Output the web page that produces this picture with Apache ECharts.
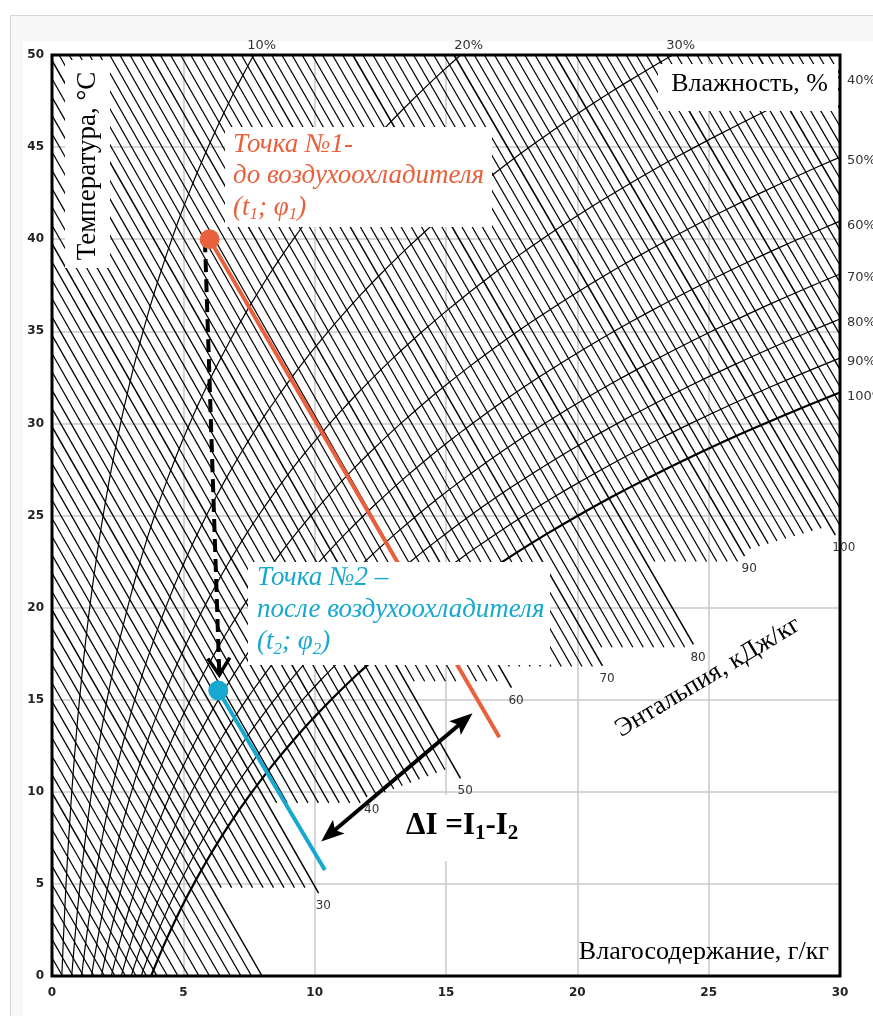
<!DOCTYPE html>
<html lang="ru">
<head>
<meta charset="utf-8">
<title>I-d диаграмма влажного воздуха</title>
<script src="https://cdn.jsdelivr.net/npm/echarts@6.0.0/dist/echarts.min.js"></script>
<style>
  html, body { margin: 0; padding: 0; background: #fff; overflow: hidden; }
  #card  { position: absolute; left: 10px; top: 15px; width: 880px; height: 1020px; box-sizing: border-box;
           border: 1px solid #d6d6d6; background: #f7f7f7; }
  #paper { position: absolute; left: 23px; top: 42px; width: 860px; height: 990px; background: #fff; }
  #chart { position: absolute; left: 0; top: 0; width: 873px; height: 1016px; }
</style>
</head>
<body>
<div id="card"></div>
<div id="paper"></div>
<div id="chart"></div>
<script>
// ---------- axes ----------
const xTicks = [0, 5, 10, 15, 20, 25, 30];                       // d, г/кг
const tTicks = [0, 5, 10, 15, 20, 25, 30, 35, 40, 45, 50];       // t, °C

// ---------- relative humidity isolines, % ----------
const rhLevels = [10, 20, 30, 40, 50, 60, 70, 80, 90, 100];

// ---------- enthalpy isolines, кДж/кг ----------
const enthalpyStep = 1;
const enthalpyMax = 128;
const enthalpyLabelled = [30, 40, 50, 60, 70, 80, 90, 100];
// lower end (t, °C) of the heavy isolines I = 10, 20 ... 100
const majorEndT = [0, 0, 4.5, 9.73, 10.73, 15.65, 16.83, 18.0, 22.8, 23.94];
// lower end (t, °C) of the thin isolines in each decade: [first, last]
const bandEndT = [[0, 0], [0, 0], [4.8, 4.8], [9.4, 9.4], [9.8, 11.2], [16.0, 16.0],
                  [16.8, 16.8], [17.85, 17.85], [22.5, 22.5], [23.2, 24.3]];

// ---------- cooling process, [d г/кг, t °C] ----------
const point1 = [6.0, 40.0];
const point2 = [6.33, 15.5];
const isenthalp1End = [17.03, 12.96];
const isenthalp2End = [10.39, 5.75];
const coolingPath = [[5.82, 40.0], [6.37, 16.34]];
const deltaIArrow = [[10.25, 7.3], [16.01, 14.26]];

const X_MIN = xTicks[0], X_MAX = xTicks[xTicks.length - 1];
const T_MIN = tTicks[0], T_MAX = tTicks[tTicks.length - 1];

// ---------- psychrometric relations, P = 101.325 кПа ----------
const P_ATM = 101.325;
const pSat = t => 0.61094 * Math.exp(17.625 * t / (t + 243.04));
const tFromPSat = p => { const l = Math.log(p / 0.61094); return 243.04 * l / (17.625 - l); };
const dAt = (phi, t) => { const pv = phi * pSat(t); return 622 * pv / (P_ATM - pv); };
const dOnH = (h, t) => (h - 1.006 * t) / (2.501 + 0.00186 * t);
const tOnH = (h, d) => (h - 2.501 * d) / (1.006 + 0.00186 * d);

// φ = const curves, cut at the frame
const rhCurves = rhLevels.map(rh => {
  const phi = rh / 100;
  const dTop = dAt(phi, T_MAX);
  const end = dTop <= X_MAX
    ? [dTop, T_MAX]
    : [X_MAX, tFromPSat(X_MAX * P_ATM / (622 + X_MAX) / phi)];
  const pts = [];
  for (let t = T_MIN; t < end[1]; t += 0.5) pts.push([dAt(phi, t), t]);
  pts.push(end);
  return { rh, pts, end };
});

// I = const hatching
const hatchMinor = [], hatchMajor = [], majorEnds = {};
for (let h = enthalpyStep; h <= enthalpyMax; h += enthalpyStep) {
  const start = h <= 1.006 * T_MAX ? [X_MIN, h / 1.006] : [dOnH(h, T_MAX), T_MAX];
  if (start[0] > X_MAX) continue;
  const k = Math.floor(h / 10);
  const isMajor = h % 10 === 0;
  let tEnd;
  if (isMajor) tEnd = k <= majorEndT.length ? majorEndT[k - 1] : T_MIN;
  else if (k < bandEndT.length) {
    const f = (h - 10 * k - 1) / 8;
    tEnd = bandEndT[k][0] + f * (bandEndT[k][1] - bandEndT[k][0]);
  } else tEnd = T_MIN;
  let end = [dOnH(h, tEnd), tEnd];
  if (end[0] > X_MAX) end = [X_MAX, tOnH(h, X_MAX)];
  if (isMajor) { hatchMajor.push({ coords: [start, end] }); majorEnds[h] = end; }
  else hatchMinor.push({ coords: [start, end] });
}

const COLOR_1 = '#e8603c';
const COLOR_2 = '#17a8cf';
const SERIF = '"Liberation Serif", "DejaVu Serif", serif';
const SANS = '"DejaVu Sans", Verdana, sans-serif';

const unit = (a, b) => { const dx = b[0] - a[0], dy = b[1] - a[1], L = Math.hypot(dx, dy); return [dx / L, dy / L]; };

const chart = echarts.init(document.getElementById('chart'), null, { renderer: 'canvas' });

const axisCommon = {
  type: 'value',
  axisLine: { show: false },
  axisTick: { show: false },
  splitLine: { show: true, showMinLine: false, showMaxLine: false, lineStyle: { color: '#c8c8c8', width: 1.5 } }
};

const series = [
  { type: 'lines', coordinateSystem: 'cartesian2d', data: hatchMinor, silent: true, z: 2,
    lineStyle: { color: '#000', width: 1.25, opacity: 1 } },
  { type: 'lines', coordinateSystem: 'cartesian2d', data: hatchMajor, silent: true, z: 2,
    lineStyle: { color: '#000', width: 1.5, opacity: 1 } }
];
rhCurves.forEach(c => series.push({
  type: 'line', data: c.pts, showSymbol: false, silent: true, z: 3,
  lineStyle: { color: '#000', width: c.rh === 100 ? 2.2 : 1.2 }
}));
series.push(
  { type: 'line', data: [point1, isenthalp1End], showSymbol: false, silent: true, z: 5,
    lineStyle: { color: COLOR_1, width: 4 } },
  { type: 'line', data: [point2, isenthalp2End], showSymbol: false, silent: true, z: 5,
    lineStyle: { color: COLOR_2, width: 4 } },
  { type: 'custom', z: 6, silent: true, data: [coolingPath[0]],
    renderItem: (params, api) => {
      const a = api.coord(coolingPath[0]), b = api.coord(coolingPath[1]);
      const [ux, uy] = unit(a, b), nx = -uy, ny = ux;
      return { type: 'group', children: [
        { type: 'line', shape: { x1: a[0], y1: a[1], x2: b[0] - ux * 3, y2: b[1] - uy * 3 },
          style: { stroke: '#000', lineWidth: 4, lineDash: [13, 7] } },
        { type: 'polyline', shape: { points: [
            [b[0] - ux * 17 + nx * 11, b[1] - uy * 17 + ny * 11], [b[0], b[1]],
            [b[0] - ux * 17 - nx * 11, b[1] - uy * 17 - ny * 11]] },
          style: { stroke: '#000', lineWidth: 3.5, fill: 'none' } }
      ] };
    } },
  { type: 'custom', z: 6, silent: true, data: [deltaIArrow[0]],
    renderItem: (params, api) => {
      const p = api.coord(deltaIArrow[0]), q = api.coord(deltaIArrow[1]);
      const [ux, uy] = unit(p, q), nx = -uy, ny = ux;
      const L = 23, W = 9, N = 18;
      const head = (tip, s) => [
        [tip[0], tip[1]],
        [tip[0] - s * ux * L + nx * W, tip[1] - s * uy * L + ny * W],
        [tip[0] - s * ux * N, tip[1] - s * uy * N],
        [tip[0] - s * ux * L - nx * W, tip[1] - s * uy * L - ny * W]];
      return { type: 'group', children: [
        { type: 'line', shape: { x1: p[0] + ux * 16, y1: p[1] + uy * 16, x2: q[0] - ux * 16, y2: q[1] - uy * 16 },
          style: { stroke: '#000', lineWidth: 4 } },
        { type: 'polygon', shape: { points: head(q, 1) }, style: { fill: '#000' } },
        { type: 'polygon', shape: { points: head(p, -1) }, style: { fill: '#000' } }
      ] };
    } },
  { type: 'scatter', data: [point1], symbolSize: 20, silent: true, z: 7, itemStyle: { color: COLOR_1, opacity: 1 } },
  { type: 'scatter', data: [point2], symbolSize: 20, silent: true, z: 7, itemStyle: { color: COLOR_2, opacity: 1 } }
);

chart.setOption({
  animation: false,
  grid: { left: 52, top: 55, right: 33, bottom: 40, show: true, backgroundColor: '#fff', borderWidth: 0 },
  xAxis: Object.assign({}, axisCommon, {
    min: X_MIN, max: X_MAX, interval: xTicks[1] - xTicks[0],
    axisLabel: { color: '#222', fontSize: 12, fontWeight: 'bold', fontFamily: SANS, margin: 11 }
  }),
  yAxis: Object.assign({}, axisCommon, {
    min: T_MIN, max: T_MAX, interval: tTicks[1] - tTicks[0],
    axisLabel: { color: '#222', fontSize: 12, fontWeight: 'bold', fontFamily: SANS, margin: 8 }
  }),
  series
});

// ---------- frame, isoline labels and captions ----------
const px = v => chart.convertToPixel({ gridIndex: 0 }, v);
const tl = px([X_MIN, T_MAX]), br = px([X_MAX, T_MIN]);
const txt = (x, y, text, st, extra) => Object.assign({ type: 'text', x, y, silent: true, z: 120,
  style: Object.assign({ text, fill: '#000' }, st) }, extra || {});
const box = (x, y, w, h) => ({ type: 'rect', silent: true, z: 110, shape: { x, y, width: w, height: h },
  style: { fill: '#fff', stroke: 'none' } });

const graphics = [
  { type: 'rect', silent: true, z: 100, shape: { x: tl[0], y: tl[1], width: br[0] - tl[0], height: br[1] - tl[1] },
    style: { fill: 'none', stroke: '#000', lineWidth: 3 } }
];

rhCurves.forEach(c => {
  const p = px(c.end);
  const onTop = c.end[1] >= T_MAX - 1e-9;
  graphics.push(txt(onTop ? p[0] + 8 : p[0] + 7, onTop ? p[1] - 9 : p[1] + 4, c.rh + '%', {
    fontSize: 13, fontFamily: SANS, fill: '#333',
    align: onTop ? 'center' : 'left', textAlign: onTop ? 'center' : 'left',
    verticalAlign: 'middle', textVerticalAlign: 'middle' }));
});

enthalpyLabelled.forEach(h => {
  const p = px(majorEnds[h]);
  graphics.push(txt(p[0] - 3, p[1] + 7, String(h), {
    fontSize: 12, fontFamily: SANS, fill: '#333',
    align: 'left', textAlign: 'left', verticalAlign: 'top', textVerticalAlign: 'top' }));
});

const serifBig = { fontSize: 26, fontFamily: SERIF, fill: '#000' };
const it1 = { fontSize: 27, fontFamily: SERIF, fontStyle: 'italic', fill: COLOR_1, lineHeight: 31.5 };
const sub1 = { fontSize: 17, fontFamily: SERIF, fontStyle: 'italic', fill: COLOR_1, lineHeight: 21, verticalAlign: 'bottom' };
const it2 = Object.assign({}, it1, { fill: COLOR_2, lineHeight: 32 });
const sub2 = Object.assign({}, sub1, { fill: COLOR_2 });
const bold = { fontSize: 31, fontFamily: SERIF, fontWeight: 'bold', fill: '#000', lineHeight: 36 };
const boldSub = { fontSize: 21, fontFamily: SERIF, fontWeight: 'bold', fill: '#000', lineHeight: 26, verticalAlign: 'bottom' };

graphics.push(
  box(65, 60, 45, 208),
  txt(88, 166, 'Температура, °C', Object.assign({ align: 'center', textAlign: 'center',
    verticalAlign: 'middle', textVerticalAlign: 'middle' }, serifBig, { fontSize: 27 }), { rotation: Math.PI / 2 }),

  box(658, 64, 180, 47),
  txt(828, 84, 'Влажность, %', Object.assign({ align: 'right', textAlign: 'right',
    verticalAlign: 'middle', textVerticalAlign: 'middle' }, serifBig)),

  box(225, 127, 267, 100),
  txt(233, 129, '{a|Точка №1-}\n{a|до воздухоохладителя}\n{a|(t}{s|1}{a|; φ}{s|1}{a|)}', {
    rich: { a: it1, s: sub1 }, fill: COLOR_1, fontSize: 27, fontFamily: SERIF, fontStyle: 'italic',
    align: 'left', textAlign: 'left', verticalAlign: 'top', textVerticalAlign: 'top' }),

  box(248, 562, 302, 103),
  txt(257, 562, '{a|Точка №2 –}\n{a|после воздухоохладителя}\n{a|(t}{s|2}{a|; φ}{s|2}{a|)}', {
    rich: { a: it2, s: sub2 }, fill: COLOR_2, fontSize: 27, fontFamily: SERIF, fontStyle: 'italic',
    align: 'left', textAlign: 'left', verticalAlign: 'top', textVerticalAlign: 'top' }),

  box(400, 795, 130, 66),
  txt(406, 826, '{b|ΔI =I}{s|1}{b|-I}{s|2}', {
    rich: { b: bold, s: boldSub }, fontSize: 31, fontFamily: SERIF, fontWeight: 'bold',
    align: 'left', textAlign: 'left', verticalAlign: 'middle', textVerticalAlign: 'middle' }),

  txt(708, 677, 'Энтальпия, кДж/кг', Object.assign({ align: 'center', textAlign: 'center',
    verticalAlign: 'middle', textVerticalAlign: 'middle' }, serifBig), { rotation: 31 * Math.PI / 180 }),

  txt(829, 952, 'Влагосодержание, г/кг', Object.assign({ align: 'right', textAlign: 'right',
    verticalAlign: 'middle', textVerticalAlign: 'middle' }, serifBig))
);

chart.setOption({ graphic: { elements: graphics } });
</script>
</body>
</html>
